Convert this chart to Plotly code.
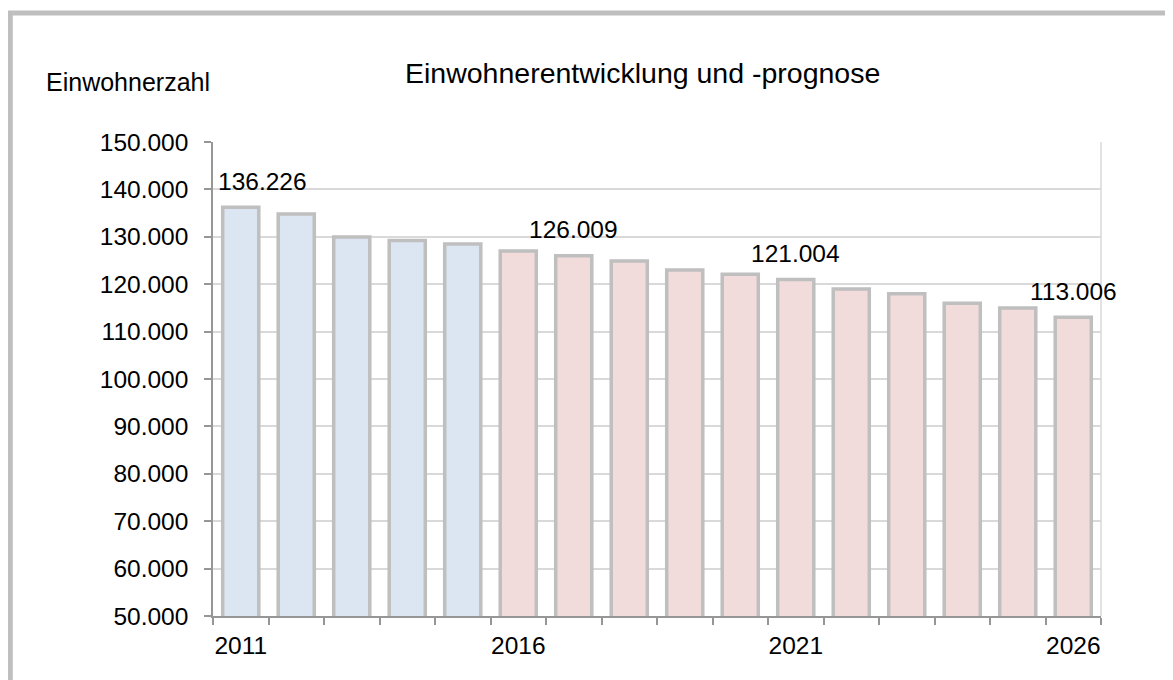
import plotly.graph_objects as go

# ---- data ----
years = [2011, 2012, 2013, 2014, 2015, 2016, 2017, 2018,
         2019, 2020, 2021, 2022, 2023, 2024, 2025, 2026]
population = [136226, 134800, 129950, 129200, 128500, 127000, 126009, 124900,
              123000, 122100, 121004, 119000, 118000, 116000, 115000, 113006]
phase = ["Ist"] * 5 + ["Prognose"] * 11
label_years = [2011, 2017, 2021, 2026]
label_texts = ["136.226", "126.009", "121.004", "113.006"]
label_xshift = [22, 0, 0, 0]
x_tick_labels = [2011, 2016, 2021, 2026]
y_ticks = [50000, 60000, 70000, 80000, 90000, 100000,
           110000, 120000, 130000, 140000, 150000]

title_text = "Einwohnerentwicklung und -prognose"
y_title_text = "Einwohnerzahl"

# ---- style ----
FONT = "Liberation Sans, Arial, sans-serif"
phase_colors = {"Ist": "#dce6f2", "Prognose": "#f2dcdb"}
OFF = 8.0  # page body margin offset
W, H = 1173, 680
L, R, T, B = 212.7 - OFF, 72.3 + OFF, 141.7 - OFF, 64.0 + OFF
pw, ph = W - L - R, H - T - B

def px_x(p):
    return (p - OFF - L) / pw

def px_y(p):
    return (H - B - (p - OFF)) / ph

fig = go.Figure()
fig.add_trace(go.Bar(
    x=years,
    y=population,
    width=0.65,
    marker=dict(color=[phase_colors[p] for p in phase],
                line=dict(color="#bfbfbf", width=3.5)),
    hoverinfo="x+y",
    showlegend=False,
))

annotations = []
for yr, txt, xs in zip(label_years, label_texts, label_xshift):
    annotations.append(dict(
        x=yr, y=population[years.index(yr)], xref="x", yref="y",
        text=txt, showarrow=False, xanchor="center", yanchor="middle",
        yshift=26, xshift=xs,
        font=dict(family=FONT, size=24.5, color="#000000"),
    ))

annotations.append(dict(
    x=px_x(44), y=px_y(82), xref="paper", yref="paper",
    text=y_title_text, showarrow=False, xanchor="left", yanchor="middle",
    font=dict(family=FONT, size=25, color="#000000"),
))
annotations.append(dict(
    x=px_x(642.5), y=px_y(73), xref="paper", yref="paper",
    text=title_text, showarrow=False, xanchor="center", yanchor="middle",
    font=dict(family=FONT, size=28.5, color="#000000"),
))

shapes = [
    # outer frame
    dict(type="rect", xref="paper", yref="paper",
         x0=px_x(10), x1=px_x(1220), y0=px_y(12.5), y1=px_y(740),
         line=dict(color="#bfbfbf", width=5), fillcolor="rgba(0,0,0,0)",
         layer="below"),
    # right plot-area border
    dict(type="line", xref="paper", yref="paper", x0=1, x1=1, y0=0, y1=1,
         line=dict(color="#d9d9d9", width=1.5)),
]

fig.update_layout(
    width=W, height=H,
    margin=dict(l=L, r=R, t=T, b=B, pad=0),
    paper_bgcolor="white", plot_bgcolor="white",
    separators=",.",
    font=dict(family=FONT, color="#000000"),
    annotations=annotations,
    shapes=shapes,
    bargap=0.35,
)

fig.update_xaxes(
    range=[2010.5, 2026.5],
    tickmode="array", tickvals=x_tick_labels,
    ticktext=[str(v) for v in x_tick_labels],
    ticks="", ticklabelstandoff=7,
    tickfont=dict(family=FONT, size=24.5, color="#000000"),
    showgrid=False, zeroline=False,
    showline=True, linecolor="#969696", linewidth=1.5,
    minor=dict(tickmode="linear", tick0=2010.5, dtick=1, ticks="outside",
               ticklen=7, tickcolor="#969696", tickwidth=1.5, showgrid=False),
    fixedrange=True,
)

fig.update_yaxes(
    range=[50000, 150000],
    tickmode="array", tickvals=y_ticks,
    tickformat=",d",
    ticks="outside", ticklen=7, tickcolor="#969696", tickwidth=1.5,
    ticklabelstandoff=11,
    tickfont=dict(family=FONT, size=24.5, color="#000000"),
    showgrid=True, gridcolor="#d9d9d9", gridwidth=1.5,
    zeroline=False,
    showline=True, linecolor="#969696", linewidth=1.5,
    fixedrange=True,
)

fig.write_html("out.html")
